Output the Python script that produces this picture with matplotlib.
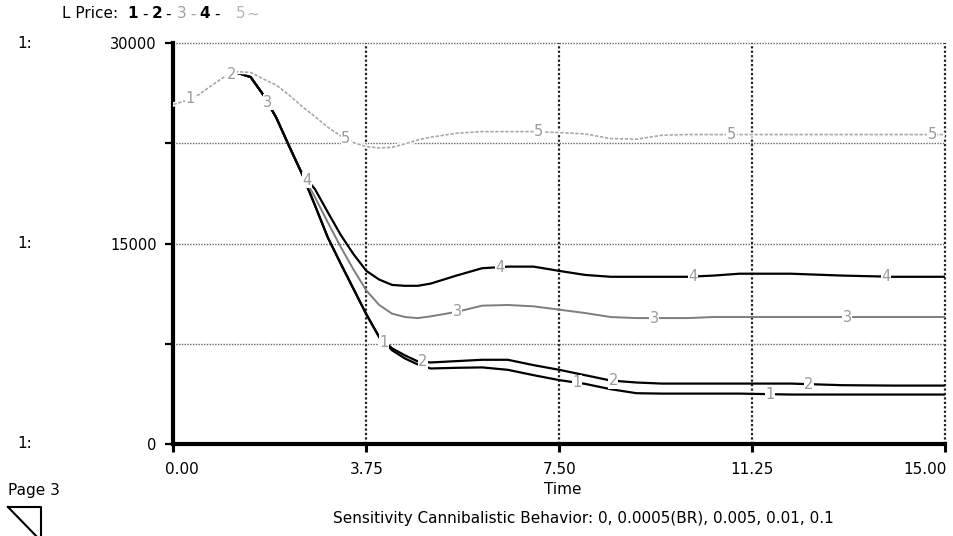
import matplotlib.pyplot as plt
import matplotlib.transforms as mtransforms
from matplotlib.lines import Line2D
import numpy as np

plt.rcParams['font.family'] = ['DejaVu Sans']

# sensitivity runs of L Price
time = [0, 0.25, 0.5, 0.75, 1.0, 1.25, 1.5, 1.75, 2.0, 2.25, 2.5, 2.75, 3.0,
        3.25, 3.5, 3.75, 4.0, 4.25, 4.5, 4.75, 5.0, 5.5, 6.0, 6.5, 7.0, 7.5,
        8.0, 8.5, 9.0, 9.5, 10.0, 10.5, 11.0, 12.0, 13.0, 14.0, 15.0]

price_1 = [25400, 25700, 26150, 26850, 27500, 27760, 27450, 26100, 24400, 22270,
           20200, 17860, 15450, 13500, 11600, 9700, 7990, 7010, 6400, 5950,
           5650, 5700, 5730, 5550, 5150, 4780, 4500, 4100, 3800, 3770, 3770,
           3770, 3770, 3700, 3700, 3700, 3700]
price_2 = [25400, 25700, 26150, 26850, 27500, 27760, 27450, 26100, 24400, 22270,
           20200, 17860, 15450, 13500, 11600, 9700, 7990, 7160, 6630, 6180,
           6100, 6200, 6300, 6300, 5900, 5550, 5150, 4750, 4600, 4520, 4520,
           4520, 4520, 4520, 4400, 4370, 4370]
price_3 = [25400, 25700, 26150, 26850, 27500, 27760, 27450, 26100, 24400, 22270,
           20200, 18470, 16580, 14750, 13050, 11480, 10400, 9750, 9500, 9420,
           9550, 9880, 10350, 10400, 10300, 10050, 9800, 9500, 9420, 9420, 9420,
           9500, 9500, 9500, 9500, 9500, 9500]
price_4 = [25400, 25700, 26150, 26850, 27500, 27760, 27450, 26100, 24400, 22270,
           20200, 19070, 17340, 15650, 14200, 12950, 12300, 11900, 11835, 11835,
           12000, 12600, 13150, 13270, 13270, 12950, 12650, 12510, 12510, 12510,
           12510, 12600, 12740, 12740, 12600, 12510, 12510]
price_5 = [25400, 25700, 26150, 26850, 27500, 27850, 27800, 27300, 26850, 26100,
           25250, 24500, 23700, 23050, 22550, 22250, 22150, 22200, 22450, 22750,
           22950, 23250, 23370, 23370, 23370, 23300, 23200, 22850, 22800, 23100,
           23150, 23150, 23150, 23150, 23150, 23150, 23150]

series = [price_1, price_2, price_3, price_4, price_5]
series_names = ["1", "2", "3", "4", "5"]
label_times = [[0.32, 4.1, 7.85, 11.6],
               [1.13, 4.85, 8.55, 12.35],
               [1.83, 5.52, 9.35, 13.1],
               [2.6, 6.35, 10.1, 13.85],
               [3.35, 7.1, 10.85, 14.75]]

x_ticks = [0, 3.75, 7.5, 11.25, 15]
x_tick_labels = ["0.00", "3.75", "7.50", "11.25", "15.00"]
y_ticks = [0, 7500, 15000, 22500, 30000]
y_tick_labels = ["0", "", "15000", "", "30000"]

W, H = 954, 536
fig = plt.figure(figsize=(W / 100, H / 100), dpi=100)
ax = fig.add_axes([173.5 / W, 92 / H, 771.5 / W, 401 / H])


def px(x, y):
    return x / W, 1 - y / H


# line styles per run
colors = ["black", "black", "#7d7d7d", "black", "#a8a8a8"]
widths = [1.6, 1.6, 1.4, 1.6, 1.2]
styles = ["-", "-", "-", "-", (0, (2, 1))]

for i, vals in enumerate(series):
    if i == 4:
        # run 5 is drawn last and covers the others where they coincide
        ax.plot(time, vals, color="white", lw=3.2, zorder=3.35)
    ax.plot(time, vals, color=colors[i], lw=widths[i], linestyle=styles[i],
            zorder=3 + i * 0.1)

# run numbers drawn on the curves
for i, vals in enumerate(series):
    for tl in label_times[i]:
        yl = np.interp(tl, time, vals)
        ax.text(tl, yl, series_names[i], fontsize=10.5, color="#9a9a9a",
                ha="center", va="center", zorder=6,
                bbox=dict(facecolor="white", edgecolor="none", pad=0.3))

ax.set_xlim(0, 15)
ax.set_ylim(0, 30000)
ax.set_xticks(x_ticks)
ax.set_xticklabels(x_tick_labels)
ax.set_yticks(y_ticks)
ax.set_yticklabels(y_tick_labels)
ax.tick_params(axis="x", direction="out", length=6, width=2.2, labelsize=11, pad=7)
ax.tick_params(axis="y", direction="out", length=6, width=1.6, labelsize=10.5, pad=6)

# first and last time labels sit inside the axis ends
xlabels = ax.get_xticklabels()
xlabels[0].set_transform(xlabels[0].get_transform() +
                         mtransforms.ScaledTranslation(8 / 100, 0, fig.dpi_scale_trans))
xlabels[-1].set_horizontalalignment("right")
xlabels[-1].set_transform(xlabels[-1].get_transform() +
                          mtransforms.ScaledTranslation(2 / 100, 0, fig.dpi_scale_trans))

ax.spines["top"].set_visible(False)
ax.spines["right"].set_visible(False)
ax.spines["left"].set_linewidth(3)
ax.spines["bottom"].set_linewidth(3)

ax.grid(axis="y", color="#666666", lw=1.0, linestyle=(0, (1, 1)))
ax.grid(axis="x", color="#222222", lw=1.6, linestyle=(0, (1, 1)))
ax.set_axisbelow(True)
for g in ax.get_ygridlines() + ax.get_xgridlines():
    g.set_clip_on(False)

# "1:" scale markers at left
for yv in [30000, 15000, 0]:
    yp = 444 - yv / 30000 * 401
    fig.text(*px(25, yp), "1:", fontsize=11, ha="center", va="center")

# title with run numbers
fig.text(*px(62, 14), "L Price:", fontsize=11, ha="left", va="center")
title_parts = [("1", 133, "black", "bold"), ("-", 145, "black", "normal"),
               ("2", 157, "black", "bold"), ("-", 168, "black", "normal"),
               ("3", 182, "#a0a0a0", "normal"), ("-", 193, "#a0a0a0", "normal"),
               ("4", 205, "black", "bold"), ("-", 217, "black", "normal"),
               ("5", 241, "#b5b5b5", "normal"), ("~", 253, "#b5b5b5", "normal")]
for txt, xp, c, w in title_parts:
    fig.text(*px(xp, 14), txt, fontsize=11, color=c, fontweight=w,
             ha="center", va="center")

fig.text(*px(563, 490), "Time", fontsize=11, ha="center", va="center")
fig.text(*px(8, 490), "Page 3", fontsize=11, ha="left", va="center")
fig.text(*px(583, 519),
         "Sensitivity Cannibalistic Behavior: 0, 0.0005(BR), 0.005, 0.01, 0.1",
         fontsize=11, ha="center", va="center")

# page turn icon
tri_x = [8, 41, 41, 8]
tri_y = [507, 507, 541, 507]
fig.add_artist(Line2D([x / W for x in tri_x], [1 - y / H for y in tri_y],
                      transform=fig.transFigure, color="black", lw=1.5))

fig.savefig("out.png", dpi=100)
